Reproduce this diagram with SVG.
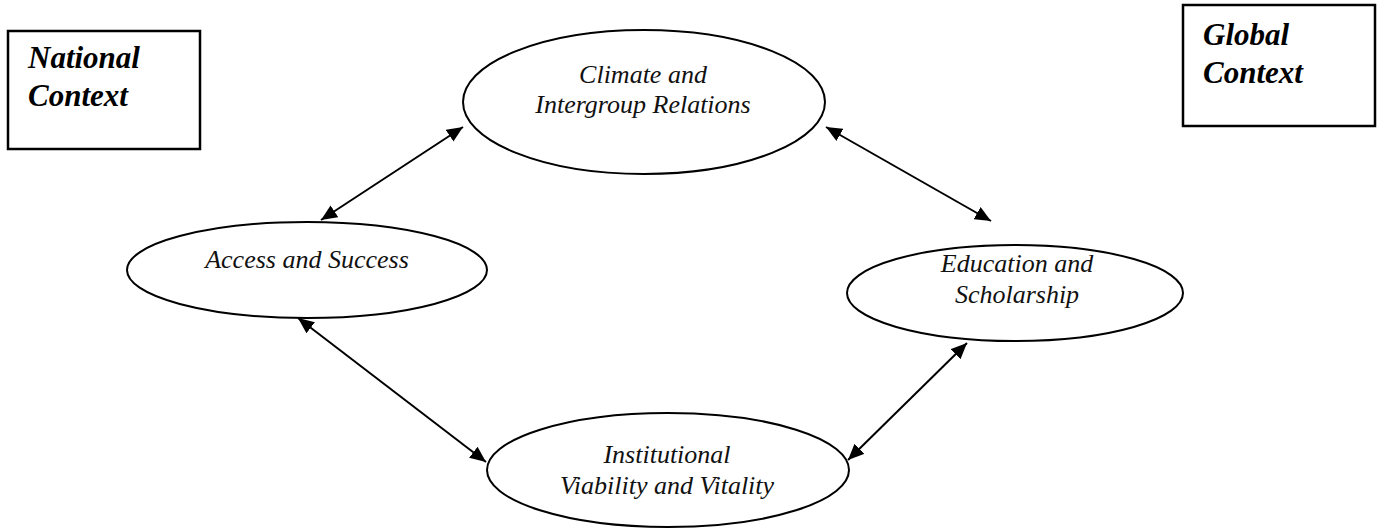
<svg xmlns="http://www.w3.org/2000/svg" width="1380" height="531" viewBox="0 0 1380 531">
<style>
.box{fill:#fff;stroke:#000;stroke-width:2.5}
.ell{fill:#fff;stroke:#000;stroke-width:2}
.ctx{font-family:"Liberation Serif","Times New Roman",serif;font-style:italic;font-weight:bold;font-size:31px;fill:#000}
.lbl{font-family:"Liberation Serif","Times New Roman",serif;font-style:italic;font-size:26px;fill:#111;text-anchor:middle}
.con{stroke:#000;stroke-width:2;fill:none;marker-start:url(#ah);marker-end:url(#ah)}
</style>
<defs>
<marker id="ah" viewBox="0 0 16 14" refX="16" refY="7" markerWidth="16" markerHeight="14" markerUnits="userSpaceOnUse" orient="auto-start-reverse">
<path d="M0,0 L16,7 L0,14 z" fill="#000"/>
</marker>
</defs>
<rect width="1380" height="531" fill="#fff"/>
<g id="national">
<rect class="box" x="8" y="31" width="192" height="118"/>
<text class="ctx" x="28" y="68">National</text>
<text class="ctx" x="28" y="106">Context</text>
</g>
<g id="global">
<rect class="box" x="1183" y="5" width="192" height="121"/>
<text class="ctx" x="1203" y="45">Global</text>
<text class="ctx" x="1203" y="83">Context</text>
</g>
<g id="climate">
<ellipse class="ell" cx="644" cy="102" rx="181" ry="72"/>
<text class="lbl" x="643" y="83">Climate and</text>
<text class="lbl" x="643" y="113">Intergroup Relations</text>
</g>
<g id="access">
<ellipse class="ell" cx="307" cy="270" rx="180" ry="48"/>
<text class="lbl" x="307" y="268">Access and Success</text>
</g>
<g id="education">
<ellipse class="ell" cx="1015" cy="293" rx="168" ry="48"/>
<text class="lbl" x="1017" y="272">Education and</text>
<text class="lbl" x="1017" y="303">Scholarship</text>
</g>
<g id="institutional">
<ellipse class="ell" cx="668" cy="470" rx="181" ry="57"/>
<text class="lbl" x="667" y="463">Institutional</text>
<text class="lbl" x="667" y="494">Viability and Vitality</text>
</g>
<g id="connectors">
<line class="con" x1="463" y1="127" x2="321" y2="220"/>
<line class="con" x1="826" y1="127" x2="991" y2="221"/>
<line class="con" x1="298" y1="318" x2="486" y2="462"/>
<line class="con" x1="967" y1="343" x2="848" y2="460"/>
</g>
</svg>
